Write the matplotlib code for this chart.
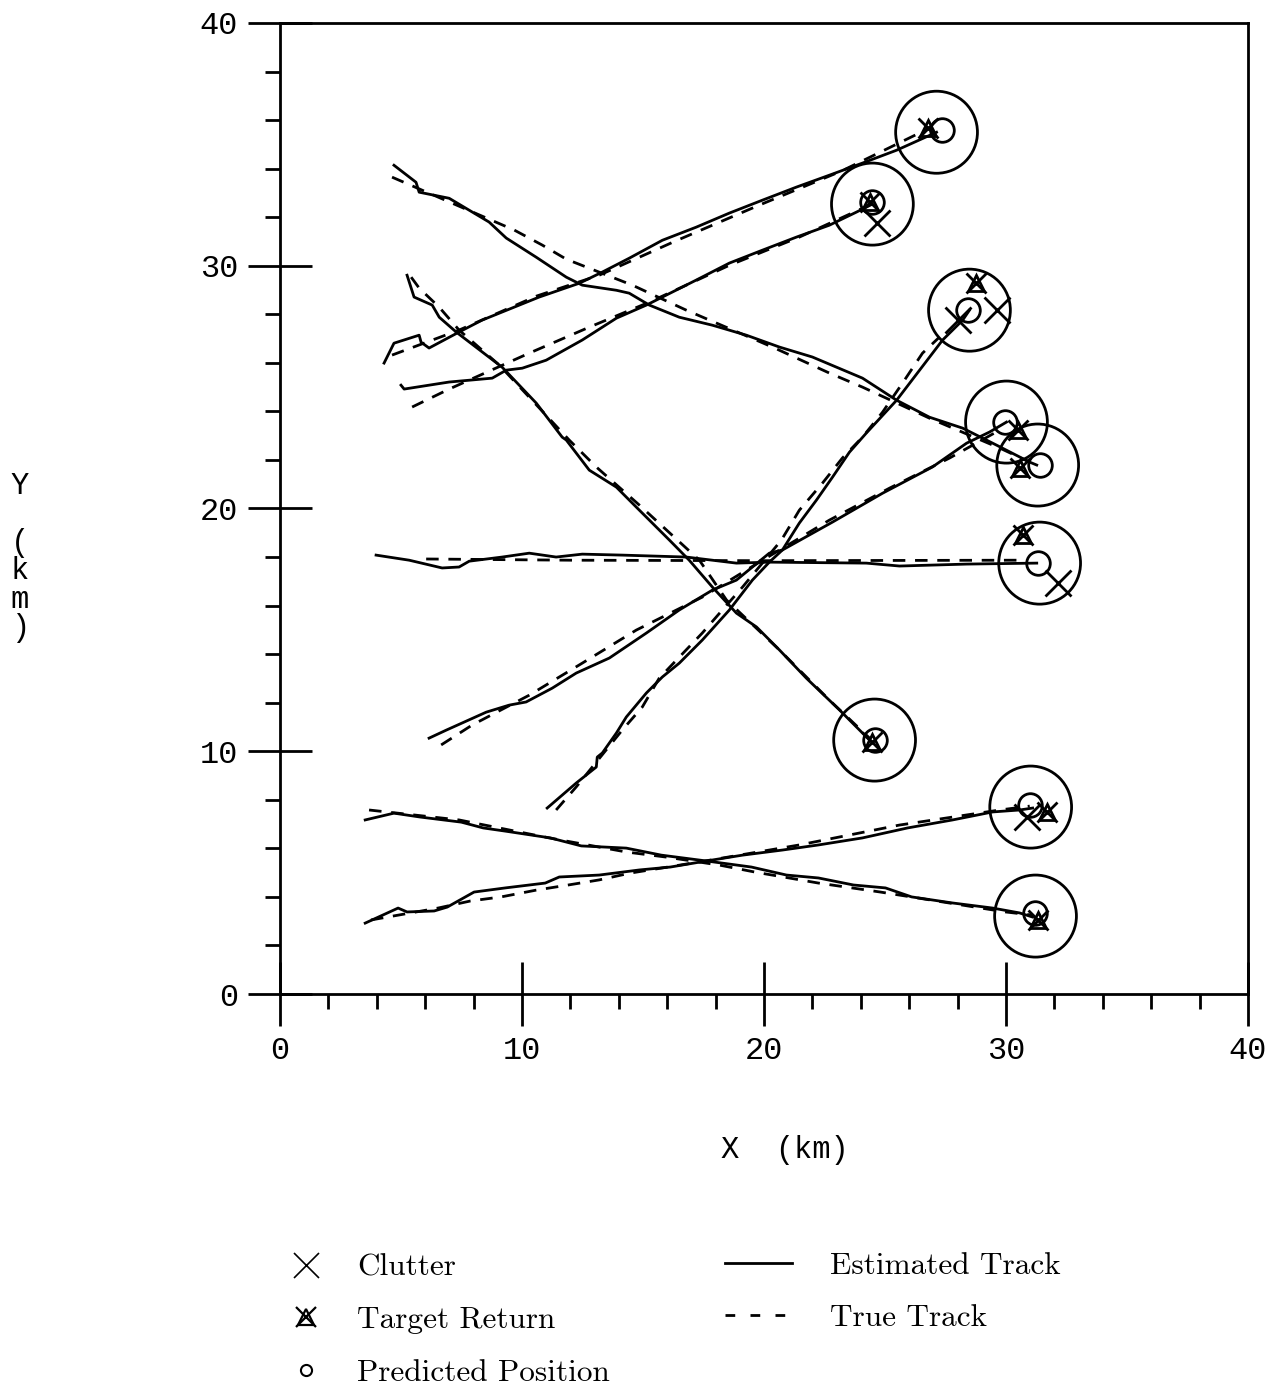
import numpy as np
import matplotlib
matplotlib.use('Agg')
import matplotlib.pyplot as plt
from matplotlib.patches import Circle
from matplotlib.lines import Line2D
from matplotlib.ticker import MultipleLocator

# Track data in km
# estimated (solid) and true (dashed) tracks
est_a = [(4.30, 25.99), (4.71, 26.81), (5.75, 27.14), (5.83, 26.85), (6.16, 26.61), (7.40, 27.27),
         (8.35, 27.76), (10.71, 28.71), (12.37, 29.28), (13.32, 29.74), (14.43, 30.31), (15.80, 31.05),
         (17.20, 31.59), (18.57, 32.17), (19.93, 32.70), (21.34, 33.24), (22.70, 33.73), (24.07, 34.23),
         (25.48, 34.76), (27.13, 35.50)]
true_a = [(4.63, 26.32), (7.40, 27.35), (10.60, 28.75), (13.19, 29.61), (16.30, 31.00), (19.81, 32.50),
          (23.20, 33.90), (26.84, 35.67)]

est_b = [(5.00, 25.08), (5.13, 24.92), (6.99, 25.21), (8.77, 25.37), (9.35, 25.70), (10.01, 25.78),
         (11.00, 26.11), (12.49, 26.94), (13.90, 27.84), (15.14, 28.38), (15.80, 28.71), (17.20, 29.41),
         (18.57, 30.11), (19.93, 30.64), (21.34, 31.18), (22.70, 31.67), (23.82, 32.21), (24.48, 32.54)]
true_b = [(5.46, 24.18), (6.99, 24.92), (10.30, 26.40), (12.78, 27.47), (15.26, 28.50), (18.57, 30.02),
          (21.46, 31.18), (24.36, 32.50)]

est_c = [(4.71, 34.14), (5.62, 33.44), (5.75, 33.03), (6.99, 32.78), (8.64, 31.80), (9.35, 31.14),
         (10.59, 30.35), (11.83, 29.53), (12.49, 29.20), (13.90, 28.99), (14.43, 28.87), (15.26, 28.38),
         (16.50, 27.88), (17.87, 27.55), (19.27, 27.14), (20.64, 26.65), (22.00, 26.24), (24.07, 25.37),
         (25.48, 24.46), (26.84, 23.76), (28.21, 23.31), (29.61, 22.61), (30.98, 21.91), (31.27, 21.79)]
true_c = [(4.63, 33.65), (9.68, 31.47), (10.84, 30.85), (11.83, 30.27), (14.56, 29.20), (16.79, 28.17),
          (20.35, 26.65), (22.70, 25.58), (24.07, 25.00), (26.84, 23.72), (29.74, 22.49), (30.98, 21.91)]

est_d = [(5.25, 29.61), (5.54, 28.71), (6.29, 28.38), (6.58, 27.88), (7.28, 27.27), (9.18, 25.82),
         (10.59, 24.34), (11.66, 22.94), (11.83, 22.82), (12.78, 21.58), (13.90, 20.88), (14.72, 20.06),
         (16.09, 18.70), (16.91, 17.87), (17.87, 16.76), (18.86, 15.69), (19.69, 15.12), (20.64, 14.17),
         (21.75, 13.01), (23.12, 11.70), (24.36, 10.46)]
true_d = [(5.42, 29.53), (5.75, 29.08), (6.58, 28.29), (7.40, 27.35), (9.06, 25.91), (11.95, 22.82),
          (13.07, 21.71), (14.85, 20.14), (17.33, 17.87), (18.45, 16.23), (20.64, 14.17), (22.70, 12.11),
          (24.36, 10.54)]

est_e = [(3.97, 18.08), (5.34, 17.87), (6.70, 17.55), (7.40, 17.59), (7.82, 17.83), (9.18, 18.00),
         (10.30, 18.16), (11.41, 18.00), (12.49, 18.12), (14.14, 18.08), (16.79, 18.00), (18.86, 17.75),
         (20.22, 17.79), (24.23, 17.75), (25.60, 17.63), (28.37, 17.71), (31.27, 17.75)]
true_e = [(6.04, 17.92), (12.00, 17.87), (20.00, 17.85), (30.44, 17.87)]

est_f = [(6.16, 10.54), (6.87, 10.87), (8.52, 11.61), (9.47, 11.90), (10.17, 12.03), (11.25, 12.60),
         (12.24, 13.22), (13.61, 13.84), (15.14, 14.87), (16.50, 15.82), (17.87, 16.64), (18.86, 17.05),
         (20.22, 18.16), (20.76, 18.29), (22.83, 19.44), (24.90, 20.63), (26.96, 21.71), (28.37, 22.69),
         (29.32, 23.15), (30.02, 23.56)]
true_f = [(6.66, 10.26), (7.94, 11.08), (10.30, 12.31), (12.49, 13.63), (14.72, 14.99), (17.45, 16.35),
          (19.81, 17.79), (22.70, 19.52), (25.19, 20.84), (27.67, 22.08), (29.74, 23.23)]

est_g = [(11.04, 7.66), (12.24, 8.69), (13.07, 9.35), (13.11, 9.76), (13.32, 9.93), (13.90, 10.75),
         (14.31, 11.41), (15.14, 12.40), (15.80, 13.06), (16.50, 13.63), (17.45, 14.58), (18.57, 15.82),
         (19.52, 17.05), (20.22, 17.79), (20.76, 18.29), (21.46, 19.40), (22.17, 20.35), (22.83, 21.29),
         (23.53, 22.32), (24.23, 23.11), (25.48, 24.46), (26.43, 25.70), (27.38, 26.94), (28.21, 27.76),
         (28.49, 28.17)]
true_g = [(11.41, 7.58), (12.24, 8.53), (14.14, 10.87), (14.97, 11.82), (15.67, 13.01), (17.45, 14.87),
          (18.28, 15.82), (19.11, 16.76), (20.72, 18.70), (21.46, 19.93), (22.42, 21.05), (23.24, 22.08),
          (24.07, 22.94), (24.90, 23.97), (25.72, 25.16), (26.55, 26.40), (27.25, 27.06)]

est_h = [(3.52, 7.17), (4.71, 7.45), (5.79, 7.29), (7.49, 7.08), (8.40, 6.84), (9.31, 6.71),
         (11.17, 6.43), (12.45, 6.10), (14.31, 6.01), (15.76, 5.72), (17.62, 5.48), (19.48, 5.23),
         (20.93, 4.90), (22.25, 4.78), (23.70, 4.49), (25.02, 4.37), (26.10, 4.00), (27.79, 3.75),
         (29.45, 3.54), (30.56, 3.34), (31.10, 3.17)]
true_h = [(3.68, 7.58), (7.40, 7.17), (11.12, 6.43), (14.31, 5.85), (15.96, 5.64), (18.16, 5.31),
          (19.64, 5.02), (22.25, 4.57), (24.81, 4.20), (29.98, 3.38), (31.10, 3.25)]

est_i = [(3.52, 2.92), (4.88, 3.54), (5.25, 3.38), (6.37, 3.42), (6.91, 3.58), (8.02, 4.20),
         (9.31, 4.37), (10.96, 4.57), (11.54, 4.82), (13.19, 4.90), (14.85, 5.11), (16.13, 5.23),
         (17.62, 5.48), (19.11, 5.72), (20.76, 5.93), (22.25, 6.14), (24.07, 6.43), (25.93, 6.84),
         (27.79, 7.17), (29.45, 7.50), (30.56, 7.58), (31.10, 7.66)]
true_i = [(3.76, 3.05), (6.53, 3.54), (7.86, 3.83), (9.14, 4.00), (10.59, 4.28), (11.91, 4.49),
          (13.19, 4.70), (14.47, 4.98), (17.33, 5.44), (21.46, 6.14), (25.60, 6.96), (29.74, 7.58),
          (30.98, 7.74)]

# validation gates
gate_x = [27.13, 24.48, 28.49, 30.02, 31.31, 31.39, 24.57, 31.02, 31.22]
gate_y = [35.50, 32.54, 28.17, 23.56, 21.79, 17.75, 10.46, 7.70, 3.21]
gate_r = 1.69

# predicted positions
pred_x = [27.34, 24.48, 28.41, 29.94, 31.39, 31.31, 24.57, 30.98, 31.18]
pred_y = [35.58, 32.62, 28.17, 23.56, 21.79, 17.75, 10.46, 7.78, 3.34]

# target returns
tgt_x = [26.76, 24.36, 28.78, 30.48, 30.56, 30.69, 24.48, 31.68, 31.31]
tgt_y = [35.67, 32.62, 29.28, 23.23, 21.66, 18.90, 10.38, 7.50, 3.05]

# clutter
clut_x = [24.65, 28.00, 29.61, 32.13, 30.85]
clut_y = [31.75, 27.76, 28.17, 16.93, 7.29]

estimated = [est_a, est_b, est_c, est_d, est_e, est_f, est_g, est_h, est_i]
true = [true_a, true_b, true_c, true_d, true_e, true_f, true_g, true_h, true_i]

mono = 'Liberation Mono'
lw = 2.0
dash = (4.5, 3.5)

fig = plt.figure(figsize=(12.8, 13.89), dpi=100)
ax = fig.add_axes([280 / 1280, 1 - 994 / 1389, (1248 - 280) / 1280, (994 - 23) / 1389])

for trk in estimated:
    p = np.array(trk)
    ax.plot(p[:, 0], p[:, 1], color='k', lw=lw)
for trk in true:
    p = np.array(trk)
    ax.plot(p[:, 0], p[:, 1], color='k', lw=lw, ls=(0, dash))

for gx, gy in zip(gate_x, gate_y):
    ax.add_patch(Circle((gx, gy), gate_r, fill=False, lw=lw, color='k'))

ax.plot(pred_x, pred_y, 'o', ms=17, mfc='none', mec='k', mew=lw)
ax.plot(tgt_x, tgt_y, 'x', ms=14, mec='k', mew=lw)
ax.plot(tgt_x, tgt_y, '^', ms=11, mfc='none', mec='k', mew=lw)
ax.plot(clut_x, clut_y, 'x', ms=19, mec='k', mew=lw)

ax.set_xlim(0, 40)
ax.set_ylim(0, 40)
ax.set_xticks([0, 10, 20, 30, 40])
ax.set_yticks([0, 10, 20, 30, 40])
ax.xaxis.set_minor_locator(MultipleLocator(2))
ax.yaxis.set_minor_locator(MultipleLocator(2))
ax.tick_params(which='major', direction='inout', length=46, width=lw, pad=7)
ax.tick_params(which='minor', direction='out', length=11, width=lw)
for s in ax.spines.values():
    s.set_linewidth(lw)
for lab in ax.get_xticklabels() + ax.get_yticklabels():
    lab.set_fontfamily(mono)
    lab.set_fontsize(23)

fig.text(785 / 1280, 1 - 1150 / 1389, 'X  (km)', family=mono, fontsize=22,
         ha='center', va='center')
fig.text(20 / 1280, 1 - 557 / 1389, 'Y\n\n(\nk\nm\n)', family=mono, fontsize=22,
         ha='center', va='center', linespacing=0.93)

# legend
serif = 'cmr10'
fs = 22.5
h_clut = Line2D([], [], marker='x', ls='none', color='k', ms=18, mew=1.2)
h_tgt = (Line2D([], [], marker='x', ls='none', color='k', ms=14, mew=1.6),
         Line2D([], [], marker='^', ls='none', color='k', mfc='none', ms=11, mew=1.6))
h_pred = Line2D([], [], marker='o', ls='none', color='k', mfc='none', ms=8, mew=1.5)
fig.legend([h_clut, h_tgt, h_pred], ['Clutter', 'Target Return', 'Predicted Position'],
           loc='upper left', bbox_to_anchor=(290 / 1280, 1 - 1254 / 1389),
           frameon=False, prop={'family': serif, 'size': fs}, handlelength=1.0,
           handletextpad=1.14, labelspacing=0.78, borderpad=0, borderaxespad=0)
h_est = Line2D([], [], color='k', lw=lw)
h_true = Line2D([], [], color='k', lw=lw, ls=(0, (3.5, 5.5)))
fig.legend([h_est, h_true], ['Estimated Track', 'True Track'],
           loc='upper left', bbox_to_anchor=(725 / 1280, 1 - 1252 / 1389),
           frameon=False, prop={'family': serif, 'size': fs}, handlelength=2.14,
           handletextpad=1.22, labelspacing=0.78, borderpad=0, borderaxespad=0)

fig.savefig('out.png', dpi=100)
